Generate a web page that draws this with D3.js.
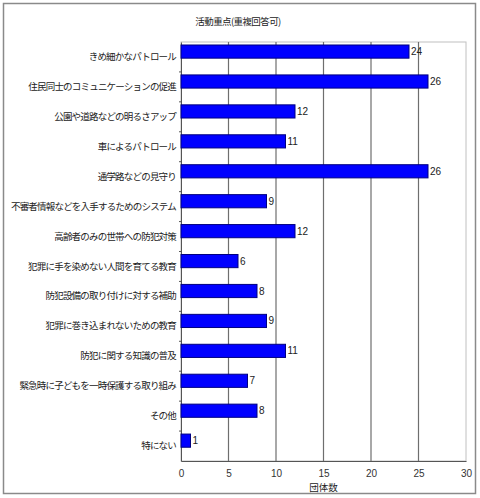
<!DOCTYPE html>
<html>
<head>
<meta charset="utf-8">
<script src="https://cdn.jsdelivr.net/npm/d3@7"></script>
<style>
body { margin: 0; background: #fff; }
text { font-family: "Noto Sans CJK JP", sans-serif; fill: #222; }
</style>
</head>
<body>
<div id="chart"></div>
<script>
var categories = [
    'きめ細かなパトロール',
    '住民同士のコミュニケーションの促進',
    '公園や道路などの明るさアップ',
    '車によるパトロール',
    '通学路などの見守り',
    '不審者情報などを入手するためのシステム',
    '高齢者のみの世帯への防犯対策',
    '犯罪に手を染めない人間を育てる教育',
    '防犯設備の取り付けに対する補助',
    '犯罪に巻き込まれないための教育',
    '防犯に関する知識の普及',
    '緊急時に子どもを一時保護する取り組み',
    'その他',
    '特にない'
];
var counts = [24, 26, 12, 11, 26, 9, 12, 6, 8, 9, 11, 7, 8, 1];
var xTicks = [0, 5, 10, 15, 20, 25, 30];
var title = '活動重点(重複回答可)';
var xTitle = '団体数';

var width = 480, height = 498;
var svg = d3.select('#chart').append('svg')
    .attr('width', width)
    .attr('height', height);

// outer frame
svg.append('rect')
    .attr('x', 3.5).attr('y', 3.5)
    .attr('width', 472).attr('height', 490)
    .style('fill', '#fff')
    .style('stroke', '#8a8a8a')
    .style('stroke-width', 1.5);

var plot = { left: 181, right: 466, top: 42, bottom: 461 };

var x = d3.scaleLinear()
    .domain([0, 30])
    .range([plot.left, plot.right]);

var y = d3.scaleBand()
    .domain(categories)
    .range([plot.top, plot.bottom]);

// plot area border
svg.append('rect')
    .attr('x', plot.left).attr('y', plot.top)
    .attr('width', plot.right - plot.left)
    .attr('height', plot.bottom - plot.top)
    .style('fill', 'none')
    .style('stroke', '#c0c0c0');

// gridlines
svg.append('g').selectAll('line')
    .data(xTicks.slice(1, -1))
    .enter()
    .append('line')
    .attr('x1', function (d) { return x(d) })
    .attr('x2', function (d) { return x(d) })
    .attr('y1', plot.top)
    .attr('y2', plot.bottom)
    .style('stroke', '#6e6e6e')
    .style('stroke-width', 1.2);

// x axis
var xAxis = svg.append('g')
    .attr('transform', 'translate(0,' + plot.bottom + ')')
    .call(d3.axisBottom(x).tickValues(xTicks).tickSize(0).tickPadding(9));
xAxis.select('.domain').style('stroke', '#555');
xAxis.selectAll('text')
    .style('font-size', '10px')
    .style('font-family', 'Arial, "Liberation Sans", sans-serif')
    .style('fill', '#333');

// y axis
var yAxis = svg.append('g')
    .attr('transform', 'translate(' + plot.left + ',0)')
    .call(d3.axisLeft(y).tickSize(0).tickPadding(5));
yAxis.select('.domain').style('stroke', '#555');
yAxis.selectAll('text')
    .style('font-size', '9.5px')
    .style('letter-spacing', '-0.8px')
    .style('fill', '#222');

// small separator ticks between categories
svg.append('g').selectAll('line')
    .data(categories.slice(1))
    .enter()
    .append('line')
    .attr('x1', plot.left - 2)
    .attr('x2', plot.left)
    .attr('y1', function (d) { return y(d) })
    .attr('y2', function (d) { return y(d) })
    .style('stroke', '#555');

// bars
var barOffset = y.bandwidth() * 0.1;
var barH = y.bandwidth() * 0.44;
svg.append('g').selectAll('rect')
    .data(counts)
    .enter()
    .append('rect')
    .attr('x', x(0))
    .attr('y', function (d, i) { return y(categories[i]) + barOffset })
    .attr('width', function (d) { return x(d) - x(0) })
    .attr('height', barH)
    .style('fill', '#0000ff')
    .style('stroke', '#000080')
    .style('stroke-width', 1);

// value labels
svg.append('g').selectAll('text')
    .data(counts)
    .enter()
    .append('text')
    .attr('x', function (d) { return x(d) + 2 })
    .attr('y', function (d, i) { return y(categories[i]) + barOffset + barH / 2 })
    .attr('dy', '0.35em')
    .style('font-size', '10px')
    .style('font-family', 'Arial, "Liberation Sans", sans-serif')
    .text(function (d) { return d });

svg.append('text')
    .attr('x', 238)
    .attr('y', 25)
    .attr('text-anchor', 'middle')
    .style('font-size', '9.5px')
    .style('letter-spacing', '-0.6px')
    .text(title);

svg.append('text')
    .attr('x', (plot.left + plot.right) / 2)
    .attr('y', 491)
    .attr('text-anchor', 'middle')
    .style('font-size', '9.5px')
    .text(xTitle);
</script>
</body>
</html>
